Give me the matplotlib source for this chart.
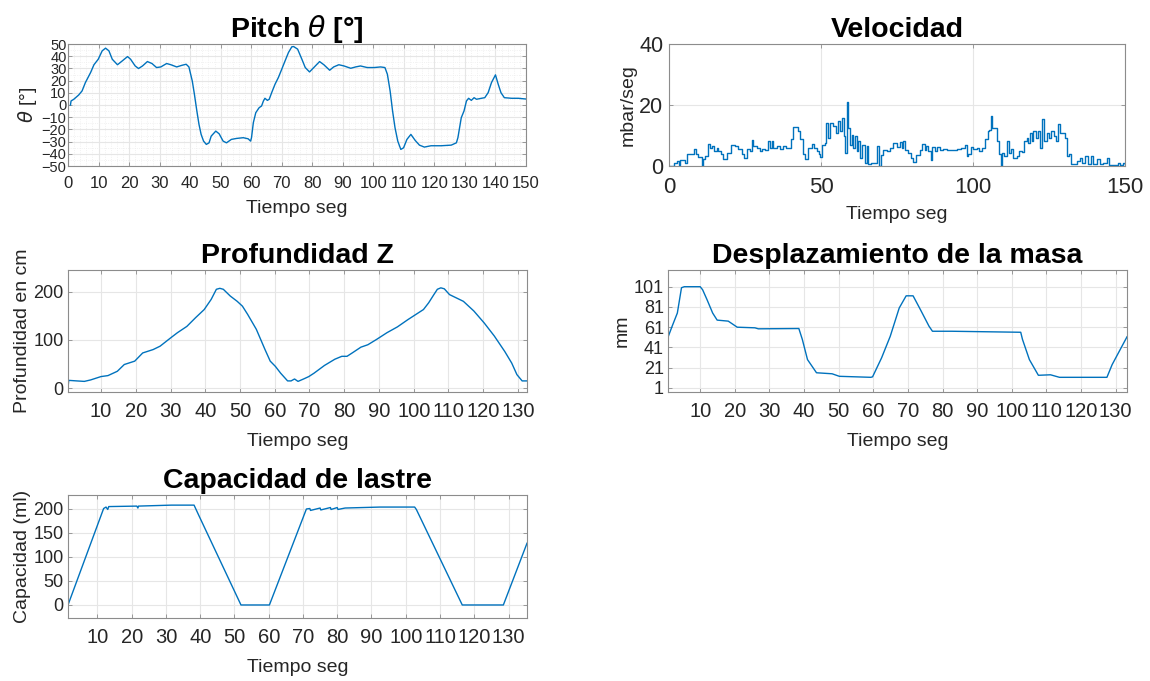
import numpy as np
import matplotlib
matplotlib.use("Agg")
import matplotlib.pyplot as plt
from matplotlib.ticker import MultipleLocator

plt.rcParams['font.family'] = ['Liberation Sans', 'DejaVu Sans']
plt.rcParams['mathtext.fontset'] = 'dejavusans'

# ---------------- datos ----------------
# pitch (grados)
pitch_t = [0.8, 1.0, 1.9, 3.5, 4.6, 5.7, 7.4, 8.5, 9.9, 11.2, 12.3, 13.4, 14.5, 16.2, 17.8, 19.5,
           20.5, 22.0, 23.1, 24.4, 26.0, 27.5, 29.0, 30.4, 32.3, 33.7, 35.6, 37.4, 38.7, 39.6, 40.7,
           41.4, 42.2, 42.9, 43.6, 44.4, 45.3, 46.2, 46.9, 48.4, 49.5, 50.8, 51.9, 53.5, 55.2, 57.4,
           59.0, 59.8, 60.1, 60.7, 61.5, 62.6, 63.4, 64.0, 64.5, 65.3, 65.9, 66.7, 67.8, 68.9, 70.0,
           71.1, 72.2, 73.3, 73.9, 74.4, 75.2, 76.6, 77.7, 79.1, 80.5, 82.4, 83.8, 85.7, 87.0, 88.7,
           90.4, 92.6, 94.2, 95.8, 98.0, 100.2, 102.4, 103.8, 104.6, 105.5, 106.3, 107.1, 108.0,
           109.0, 109.9, 111.0, 112.3, 113.7, 115.1, 116.7, 118.9, 122.2, 125.5, 127.2, 127.7,
           128.8, 129.7, 130.5, 131.2, 132.1, 133.0, 133.8, 135.4, 136.5, 137.6, 138.7, 140.0,
           140.9, 141.8, 142.9, 145.3, 147.5, 150.0]
pitch_deg = [0, 3.3, 4.7, 8.2, 11.5, 18.4, 26.6, 33, 37.5, 44.4, 46.6, 44.4, 37.5, 33, 36.2, 39.7,
             37.5, 32, 29.9, 32, 35.6, 34, 30.7, 31.2, 34, 33, 31.2, 32.6, 33.4, 31.2, 19.7,
             8.8, -4.9, -15.9, -24.1, -29.6, -32.3, -31, -25.5, -21.4, -23.6, -29.6, -31, -28.2, -27.4, -26.8,
             -27.7, -29.6, -26.8, -14.5, -6.3, -2.2, -0.8, 3.3, 5.5, 3.8, 4.7, 10.1, 17, 22.5, 29.3,
             36.2, 43, 47.7, 47.9, 47.1, 45.8, 37.5, 30.7, 27.1, 30.7, 35.6, 33, 28.5, 31.2, 33,
             32, 30.1, 31.2, 32, 30.7, 30.7, 31.2, 30.7, 25.2, 11.5, -4.9, -18.6, -29.6,
             -36.4, -35.1, -28.2, -24.1, -29, -32.9, -34.5, -33.4, -33.4, -32.9, -31, -26.8,
             -10.4, -4.9, 3.3, 5.5, 3.8, 6, 4.7, 5.5, 6, 10.1, 18.4, 24.7,
             17, 10.1, 6, 5.5, 5.5, 4.9]

# velocidad (mbar/seg)
vel_t = [0, 1.1, 1.5, 2.5, 3.2, 3.6, 4.7, 5.2, 5.8, 8.0, 8.3, 8.8, 9.6, 10.7, 11.3, 12.0, 12.7,
         13.5, 14.0, 14.9, 15.7, 16.2, 17.1, 17.9, 19.0, 20.3, 21.7, 22.8, 23.9, 24.8, 25.5, 26.6,
         27.2, 27.7, 28.8, 29.9, 30.5, 31.6, 32.5, 33.2, 33.8, 34.3, 35.4, 36.5, 37.6, 38.4, 39.5,
         40.1, 40.9, 42.0, 42.5, 43.1, 44.2, 44.7, 45.3, 45.8, 46.9, 47.8, 48.6, 49.3, 49.6, 50.4,
         51.3, 51.8, 52.4, 52.9, 54.0, 54.8, 55.7, 56.2, 56.8, 57.5, 57.9, 58.5, 59.0, 59.5, 60.1,
         60.6, 61.2, 61.7, 62.3, 62.8, 63.6, 64.4, 65.0, 65.5, 66.6, 67.7, 68.3, 69.0, 69.9, 70.5,
         71.6, 72.7, 73.8, 74.9, 76.0, 76.5, 77.1, 77.6, 78.7, 79.6, 80.3, 81.4, 82.5, 83.3, 84.2,
         84.7, 85.3, 86.2, 86.6, 87.5, 88.0, 89.1, 90.2, 91.3, 92.9, 94.6, 96.2, 97.3, 97.9, 98.5,
         99.4, 100.1, 101.2, 102.0, 103.1, 104.0, 104.9, 105.3, 105.9, 106.4, 107.0, 107.8, 108.4,
         109.2, 109.7, 110.3, 111.1, 111.7, 112.5, 113.3, 114.4, 115.2, 116.0, 116.9, 117.7, 118.2,
         118.8, 119.3, 119.9, 120.6, 121.3, 122.1, 122.8, 123.5, 124.3, 125.0, 125.7, 126.5, 127.2,
         128.1, 128.7, 129.4, 130.3, 130.8, 131.6, 132.3, 133.0, 134.1, 135.2, 136.0, 136.9, 137.8,
         138.9, 139.6, 140.7, 141.8, 142.9, 144.0, 144.8, 146.2, 147.8, 148.4, 149.5, 150.0]
vel_v = [0, 0, 1.1, 1.6, 0.3, 2, 2, 1, 3.8, 3.8, 5.5, 3.8, 3, 0, 2.2, 3.3, 7.1,
         6, 6.6, 4.9, 6, 4.9, 3.8, 2.2, 4.4, 6.9, 6.6, 5.5, 4, 2.7, 5.5, 4.9,
         8.5, 6.6, 6, 4.9, 5.5, 5.2, 8.2, 6, 8.2, 6, 6.6, 5.5, 6.6, 6, 6,
         8.7, 12.8, 12.8, 11.5, 8.7, 3.8, 2.2, 2.2, 6, 7.1, 6, 4.9, 3.8, 3.1, 7,
         7.5, 14.1, 9.2, 14, 13, 10.8, 14.7, 11.4, 15.8, 9.7, 4.2, 21, 12.5, 7, 10.3,
         5.9, 9.7, 4.8, 8.1, 2.5, 7, 0.9, 6.4, 0.6, 0.9, 0.9, 6.4, 0.1, 3.6, 5.3,
         4.8, 5.9, 7.7, 6.2, 7.8, 5.9, 8.1, 5.3, 4.2, 2.5, 1.4, 3.6, 5.3, 7.2, 5.3,
         6.7, 4.8, 2, 6.1, 4.8, 6.1, 5.3, 5.6, 5.3, 5.3, 5.6, 5.9, 7, 3.4, 3.8,
         6.2, 5.5, 6, 4.9, 6, 8.7, 11.5, 11.7, 16.4, 12.6, 12.6, 8.2, 3.8,
         0, 4.4, 3.3, 8.2, 4.4, 5.5, 2.7, 3.3, 4.9, 4.6, 8.2, 9.3, 7.7,
         10.9, 8.2, 11.5, 9.3, 11.5, 6, 15.3, 8.2, 10.9, 9.3, 11.5, 9.8, 8.2,
         13.7, 10.9, 10.9, 9.3, 3.3, 3.8, 0.8, 0.5, 1.6, 2.7, 1.1, 3.3, 0.5,
         3.3, 0.8, 2.2, 0.8, 1.1, 2.5, 0.3, 0.2, 1.1, 0.3, 1.1, 0.8]

# profundidad (cm)
prof_t = [0.5, 0.7, 1.0, 3.0, 5.2, 7.0, 10.0, 12.0, 14.7, 16.7, 19.7, 22.0, 25.0, 27.0, 30.0, 32.0,
          34.7, 37.2, 39.7, 41.7, 43.2, 44.2, 45.2, 47.2, 49.2, 50.7, 52.2, 54.7, 57.2, 58.7, 60.2,
          61.7, 63.7, 64.7, 65.7, 66.7, 68.3, 69.8, 71.3, 74.3, 77.3, 79.3, 80.8, 82.3, 84.8, 86.8,
          89.3, 92.3, 95.3, 98.3, 101.3, 102.8, 104.3, 105.8, 106.8, 107.8, 108.8, 110.3, 112.3,
          114.3, 117.3, 120.3, 123.2, 126.2, 128.2, 129.7, 131.2, 132.6]
prof_cm = [0, 16, 16, 15, 14, 17, 24, 26, 35, 49, 56, 73, 80, 87, 104, 115,
           128, 146, 163, 184, 205, 207, 205, 191, 180, 170, 153, 122, 80, 56, 45,
           31, 15, 15, 19, 14, 19, 24, 31, 47, 60, 66, 66, 73, 85, 90,
           101, 115, 127, 142, 156, 163, 177, 194, 205, 208, 206, 194, 187,
           180, 160, 135, 108, 76, 52, 28, 15, 15]

# desplazamiento de la masa (mm)
masa_t = [0.7, 0.8, 1.9, 3.4, 4.6, 5.4, 10.0, 10.7, 12.0, 13.6, 14.9, 18.1, 20.7, 25.8, 26.8,
          38.5, 39.5, 41.0, 43.6, 48.1, 50.2, 59.3, 59.8, 62.4, 64.9, 67.5, 69.5, 71.5, 73.6,
          76.1, 77.1, 82.7, 102.6, 103.1, 105.1, 107.7, 111.2, 113.8, 127.5, 129.0, 133.3]
masa_mm = [22.5, 52, 62, 75, 100, 101, 101, 98, 88, 75, 68, 67, 61, 60.4, 59.4,
           59.7, 49, 29, 16, 15, 12.5, 11.5, 12, 30.7, 52, 80, 92, 92, 78.5,
           62, 57, 57, 56, 49, 29, 13.5, 14, 11.5, 11.5, 24, 51.5]

# capacidad de lastre (ml)
lastre_t = [1.4, 11.8, 12.5, 13.0, 13.3, 21.5, 21.8, 22.0, 31.6, 38.2, 39.7, 51.9, 60.2, 71.0,
            72.0, 72.2, 75.0, 75.2, 78.0, 78.2, 80.0, 80.2, 82.3, 92.5, 102.6, 103.1, 116.5,
            128.5, 135.4]
lastre_ml = [0, 200, 203, 198, 204, 205, 201, 205, 207, 207, 184, 0, 0, 199,
             200, 196, 201, 197, 202, 198, 202, 198, 201, 203, 203, 198, 0,
             0, 128]

LINE = '#0072BD'
TXT = '#262626'
W, H = 1150, 681

fig = plt.figure(figsize=(W / 100, H / 100), dpi=100)


def make_ax(l, t, r, b):
    ax = fig.add_axes([l / W, 1 - b / H, (r - l) / W, (b - t) / H])
    for s in ax.spines.values():
        s.set_color('#8c8c8c')
        s.set_linewidth(0.8)
    ax.tick_params(direction='in', length=3, width=0.6, color='#8c8c8c',
                   top=True, right=True, labelcolor=TXT, labelsize=13, pad=3)
    ax.tick_params(axis='x', labelsize=14.5, pad=7)
    ax.grid(True, color='#e6e6e6', linewidth=0.8)
    ax.set_axisbelow(True)
    return ax


def finish(ax, title, ylabel):
    ax.set_title(title, fontsize=20.5, fontweight='bold', color='black', pad=5)
    ax.set_xlabel('Tiempo seg', fontsize=14, color=TXT, labelpad=9)
    ax.set_ylabel(ylabel, fontsize=14, color=TXT, labelpad=2)


# Pitch
ax1 = make_ax(68, 44, 526, 166)
ax1.plot(pitch_t, pitch_deg, color=LINE, linewidth=1.0)
ax1.set_xlim(0, 150)
ax1.set_ylim(-50, 50)
ax1.set_xticks(np.arange(0, 151, 10))
ax1.set_yticks(np.arange(-50, 51, 10))
ax1.xaxis.set_minor_locator(MultipleLocator(2))
ax1.yaxis.set_minor_locator(MultipleLocator(5))
ax1.grid(True, which='minor', color='#ededed', linewidth=0.6, linestyle=':')
ax1.tick_params(axis='x', labelsize=12, pad=7)
ax1.tick_params(axis='y', labelsize=10.5, pad=1)
ax1.tick_params(which='minor', length=0)
finish(ax1, r'Pitch $\theta$ [°]', r'$\theta$ [°]')
ax1.xaxis.labelpad = 7

# Velocidad
ax2 = make_ax(669, 44, 1125, 166)
ax2.plot(vel_t, vel_v, color=LINE, linewidth=1.0, drawstyle='steps-post')
ax2.set_xlim(0, 150)
ax2.set_ylim(0, 40)
ax2.set_xticks([0, 50, 100, 150])
ax2.set_yticks([0, 20, 40])
ax2.tick_params(axis='x', labelsize=16, pad=8)
ax2.tick_params(axis='y', labelsize=15.5, pad=4)
finish(ax2, 'Velocidad', 'mbar/seg')
ax2.xaxis.labelpad = 6

# Profundidad
ax3 = make_ax(68, 270, 527, 392)
ax3.plot(prof_t, prof_cm, color=LINE, linewidth=1.0)
ax3.set_xlim(0.5, 132.6)
ax3.set_ylim(-8, 245)
ax3.set_xticks(np.arange(10, 131, 10))
ax3.set_yticks([0, 100, 200])
finish(ax3, 'Profundidad Z', 'Profundidad en cm')

# Desplazamiento de la masa
ax4 = make_ax(668, 270, 1127, 392)
ax4.plot(masa_t, masa_mm, color=LINE, linewidth=1.0)
ax4.set_xlim(0.7, 133.3)
ax4.set_ylim(-3, 117.5)
ax4.set_xticks(np.arange(10, 131, 10))
ax4.set_yticks(np.arange(1, 102, 20))
finish(ax4, 'Desplazamiento de la masa', 'mm')

# Capacidad de lastre
ax5 = make_ax(68, 495, 527, 618)
ax5.plot(lastre_t, lastre_ml, color=LINE, linewidth=1.0)
ax5.set_xlim(1.4, 135.4)
ax5.set_ylim(-27, 228)
ax5.set_xticks(np.arange(10, 131, 10))
ax5.set_yticks(np.arange(0, 201, 50))
finish(ax5, 'Capacidad de lastre', 'Capacidad (ml)')

fig.savefig('out.png', dpi=100)
